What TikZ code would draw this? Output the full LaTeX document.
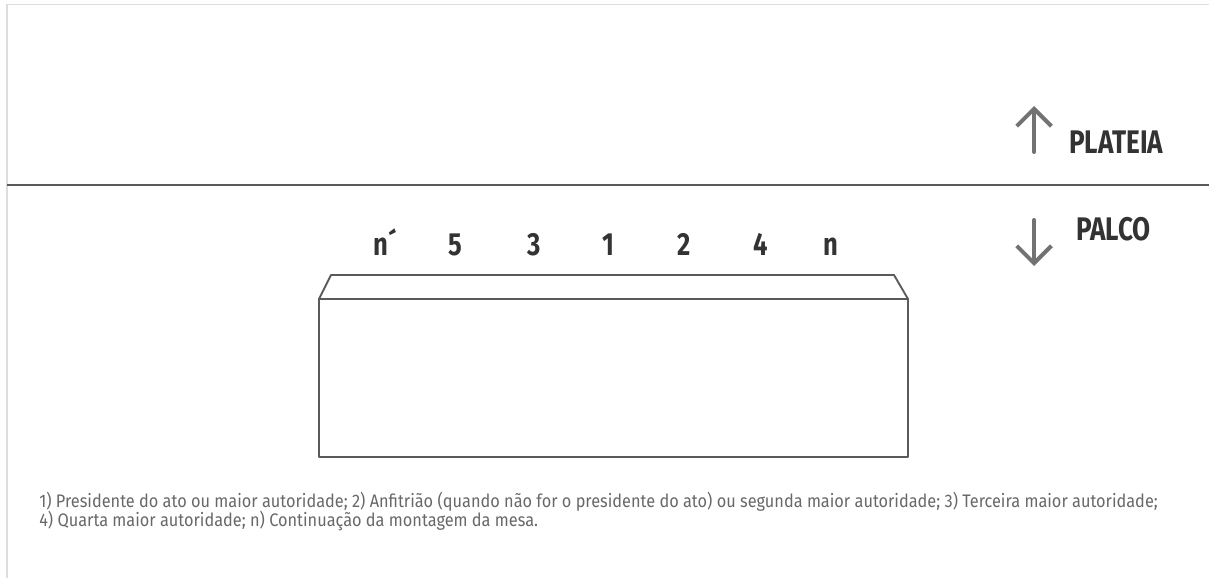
\documentclass[tikz,border=0pt]{standalone}
\usepackage{fontspec}
\setmainfont{Fira Sans}
\newfontfamily\dincond[FakeStretch=0.8]{Fira Sans}
\newfontfamily\dinnote[FakeStretch=0.9]{Fira Sans}
\usetikzlibrary{arrows.meta}
\definecolor{ink}{HTML}{333333}
\definecolor{rulegray}{HTML}{5A5A5A}
\definecolor{arrowgray}{HTML}{727272}
\definecolor{framegray}{HTML}{DDDDDD}
\definecolor{notegray}{HTML}{686868}
\begin{document}
\begin{tikzpicture}[x=0.75pt,y=-0.75pt,line cap=round,line join=round,
  seat/.style={anchor=base,inner sep=0pt,text=ink,font=\dincond\bfseries\fontsize{24}{24}\selectfont},
  side/.style={anchor=base west,inner sep=0pt,text=ink,font=\dincond\bfseries\fontsize{24.5}{24.5}\selectfont},
  note/.style={anchor=base west,inner sep=0pt,text=notegray,font=\dinnote\fontsize{13.6}{16}\selectfont},
  dir/.style={draw=arrowgray,line width=3pt,-{Straight Barb[length=13pt,width=26pt,line width=3pt]}},
  box/.style={draw=rulegray,line width=1.4pt}]
\useasboundingbox (0,0) rectangle (1209,578);
% frame
\draw[framegray,line width=1.2pt,line cap=butt] (7,578) -- (7,4.5) -- (1209,4.5);
\draw[rulegray,line width=1.2pt,line cap=butt] (7,185) -- (1209,185);
% direcoes
\coordinate (upS) at (1034,152);
\coordinate (upE) at (1034,106);
\coordinate (dnS) at (1034,220);
\coordinate (dnE) at (1034,266);
\draw[dir] (upS) -- (upE);
\draw[dir] (dnS) -- (dnE);
\node[side] (plateia) at (1069,153) {PLATEIA};
\node[side] (palco) at (1076,240) {PALCO};
% mesa
\foreach \lab/\x [count=\i] in {n´/385,5/455,3/534,1/608,2/684,4/761,n/831}
  \node[seat] (s\i) at (\x,255) {\lab};
\draw[box] (319,299) rectangle (908,457);
\draw[box] (319,299) -- (331,275) -- (894,275) -- (908,299);
% legenda
\node[note] (note1) at (39,507) {1) Presidente do ato ou maior autoridade; 2) Anfitrião (quando não for o presidente do ato) ou segunda maior autoridade; 3) Terceira maior autoridade;};
\node[note] (note2) at (39,526) {4) Quarta maior autoridade; n) Continuação da montagem da mesa.};
\end{tikzpicture}
\end{document}
